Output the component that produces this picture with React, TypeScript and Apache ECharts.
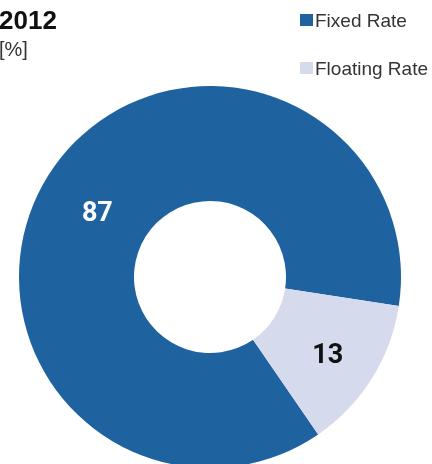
import React, { useEffect, useRef } from "react";
import * as echarts from "echarts";

const categories = ["Fixed Rate", "Floating Rate"];
const values = [87, 13];
const colors = ["#1F62A0", "#D5DAEC"];
const labelColors = ["#FFFFFF", "#111111"];
const labelOffsets = [[3, 8], [2, 4]];
const titleText = "2012";
const unitText = "[%]";

export default function App() {
  const ref = useRef<HTMLDivElement>(null);
  useEffect(() => {
    if (!ref.current) return;
    const chart = echarts.init(ref.current, undefined, { renderer: "svg" });
    chart.setOption({
      animation: false,
      title: {
        text: titleText,
        subtext: unitText,
        left: -1,
        top: 7,
        padding: 0,
        itemGap: 6,
        textStyle: { fontFamily: "Liberation Sans", fontSize: 26, fontWeight: "bold", color: "#111" },
        subtextStyle: { fontFamily: "Liberation Sans", fontSize: 20, color: "#333" },
      },
      legend: {
        orient: "vertical",
        left: 300,
        top: 10,
        padding: 0,
        itemWidth: 13,
        itemHeight: 12,
        itemGap: 28,
        icon: "rect",
        data: categories,
        textStyle: { fontFamily: "Liberation Sans", fontSize: 19, color: "#333", lineHeight: 20, padding: [0, 0, 0, -3] },
      },
      series: [
        {
          type: "pie",
          radius: [76, 191],
          center: [210, 277],
          startAngle: 304.5,
          clockwise: true,
          label: {
            show: true,
            position: "inside",
            formatter: "{c}",
            fontFamily: "Roboto",
            fontSize: 27,
            fontWeight: "bold",
          },
          labelLine: { show: false },
          emphasis: { disabled: true },
          data: categories.map((name, i) => ({
            name,
            value: values[i],
            itemStyle: { color: colors[i] },
            label: { color: labelColors[i], offset: labelOffsets[i] },
          })),
        },
      ],
    });
    return () => chart.dispose();
  }, []);
  return <div ref={ref} style={{ position: "fixed", left: 0, top: 0, width: 432, height: 464 }} />;
}
